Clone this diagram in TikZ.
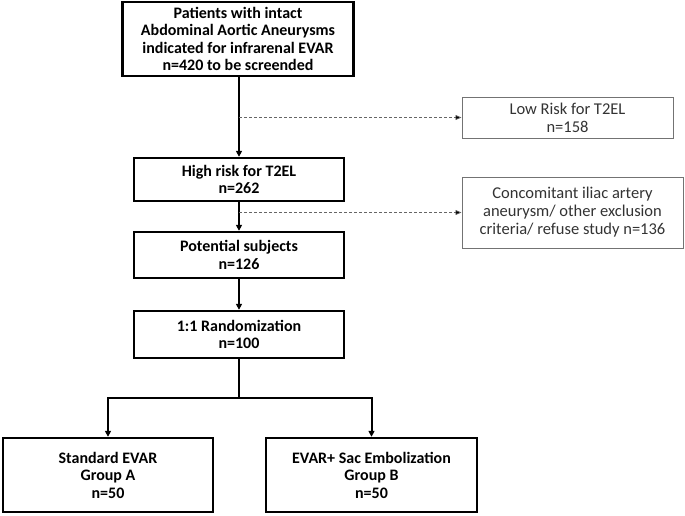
\documentclass[tikz,border=0pt]{standalone}
\usepackage{fontspec}
\setmainfont{Carlito}
\usetikzlibrary{arrows.meta}
\begin{document}
\begin{tikzpicture}[x=1pt,y=-1pt,
  mainbox/.style={draw=black,line width=2.4pt,fill=white,align=center,inner sep=2pt,font=\fontsize{16}{17.5}\selectfont\bfseries},
  sidebox/.style={draw=black!55,line width=1pt,fill=white,align=center,inner sep=2pt,text=black!80,font=\fontsize{16.5}{18}\selectfont},
  conn/.style={line width=2pt,-{Triangle[length=6pt,width=6pt]}},
  plain/.style={line width=2pt},
  dashconn/.style={dashed,dash pattern=on 3pt off 2pt,line width=0.7pt,draw=black!60,-{Triangle[length=6pt,width=5pt,fill=black]}}]
\useasboundingbox (0,0) rectangle (685,515);
\node[mainbox,minimum width=231pt,minimum height=74pt] (p) at (238,39) {Patients with intact\\Abdominal Aortic Aneurysms\\indicated for infrarenal EVAR\\n=420 to be screended};
\node[mainbox,minimum width=210pt,minimum height=43pt] (h) at (239,179.5) {High risk for T2EL\\n=262};
\node[mainbox,minimum width=210pt,minimum height=46pt] (ps) at (239,255) {Potential subjects\\n=126};
\node[mainbox,minimum width=210pt,minimum height=47pt] (r) at (239,334.5) {1:1 Randomization\\n=100};
\node[mainbox,minimum width=210pt,minimum height=74pt] (ga) at (108,475) {Standard EVAR\\Group A\\n=50};
\node[mainbox,minimum width=211pt,minimum height=74pt] (gb) at (371.5,475) {EVAR+ Sac Embolization\\Group B\\n=50};
\node[sidebox,minimum width=211pt,minimum height=41pt] (lo) at (567.5,117.5) {Low Risk for T2EL\\n=158};
\node[sidebox,minimum width=221pt,minimum height=71pt] (cc) at (572.5,212.5) {Concomitant iliac artery\\aneurysm/ other exclusion\\criteria/ refuse study n=136};
\draw[conn] (p.south -| h.north) -- (h.north);
\draw[conn] (h) -- (ps);
\draw[conn] (ps) -- (r);
\coordinate (s) at (239,398);
\draw[plain] (r.south) -- (s);
\draw[conn] (s) -| (ga.north);
\draw[conn] (s) -| (gb.north);
\draw[dashconn] (h.north |- lo.west) -- (lo.west);
\draw[dashconn] (h.south |- cc.west) -- (cc.west);
\end{tikzpicture}
\end{document}
